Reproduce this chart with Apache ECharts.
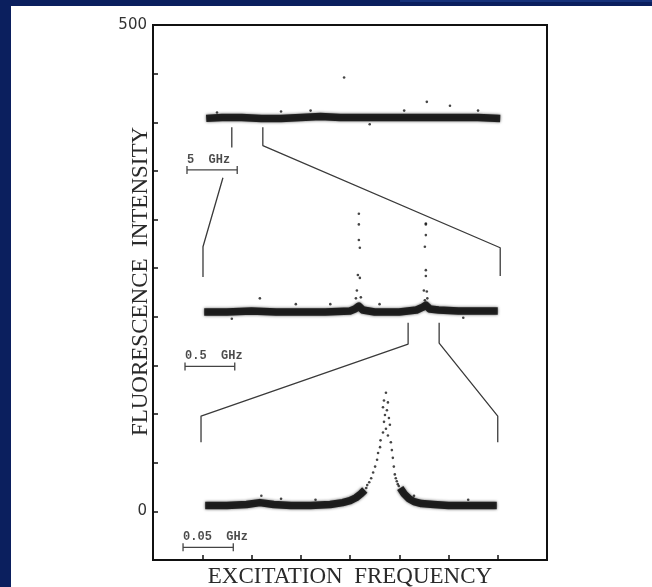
<!DOCTYPE html>
<html>
<head>
<meta charset="utf-8">
<script src="https://cdn.jsdelivr.net/npm/echarts@6/dist/echarts.min.js"></script>
<style>
  html, body { margin: 0; padding: 0; width: 652px; height: 587px; overflow: hidden; background: #0b1f5e; }
  #topline { position: absolute; left: 400px; top: 0; width: 252px; height: 2px; background: #16317a; }
  #chart { position: absolute; left: 11px; top: 6px; width: 641px; height: 581px; background: #fff; }
</style>
</head>
<body>
<div id="topline"></div>
<div id="chart"></div>
<script>
// traces (x: arbitrary frequency units, y: intensity)
const topBand = [[1.08,404],[1.4,405],[1.8,405],[2.2,404],[2.6,404],[3.0,405],[3.4,406],[3.8,405],[4.2,405],[4.6,405],[5.0,405],[5.4,405],[5.8,405],[6.2,405],[6.6,405],[7.05,404]]
const topStray = [[3.88,446],[5.56,421],[6.03,417],[5.1,412],[3.2,412],[2.6,411],[4.4,398],[6.6,412],[1.3,410]]

const midBand = [[1.04,205],[1.5,205],[2.0,206],[2.5,205],[3.0,205],[3.5,205],[4.0,206],[4.1,208],[4.18,211],[4.26,207],[4.5,205],[5.0,205],[5.35,207],[5.48,210],[5.54,212],[5.62,208],[5.8,207],[6.2,206],[6.6,206],[7.0,206]]
const midPeaks = [[4.18,306],[4.18,295],[4.18,279],[4.2,271],[4.16,243],[4.2,240],[4.14,227],[4.12,219],[4.22,220],
  [5.54,296],[5.54,295],[5.54,284],[5.52,272],[5.54,248],[5.54,242],[5.5,227],[5.56,226],[5.52,217],[5.57,219]]
const midStray = [[2.17,219],[2.9,213],[3.6,213],[1.6,198],[4.6,213],[6.3,199]]

const botBandLeft = [[1.06,6],[1.5,6],[1.9,7],[2.17,9],[2.45,7],[2.8,6],[3.2,6],[3.6,7],[3.85,9],[4.0,11],[4.12,14],[4.22,18],[4.3,22]]
const botBandRight = [[5.02,24],[5.1,18],[5.2,13],[5.3,10],[5.45,8],[5.7,7],[6.0,6],[6.5,6],[6.98,6]]
const botPeak = [[4.73,122],[4.69,114],[4.77,112],[4.67,107],[4.75,104],[4.71,99],[4.79,96],[4.69,92],[4.81,89],[4.73,85],[4.67,81],[4.77,78],[4.62,73],[4.83,71],[4.61,66],[4.85,63],[4.57,60],[4.55,53],[4.87,55],[4.51,46],[4.89,46],[4.47,40],[4.91,38],[4.93,34],[4.95,31],[4.43,34],[4.39,30],[4.35,27],[4.97,28],[4.99,26],[4.33,24]]
const botStray = [[2.2,16],[2.6,13],[3.3,12],[5.3,16],[6.4,12]]

// zoom connectors
const zoomTopA = [[1.60,395],[1.60,374]]
const zoomTopB = [[2.23,395],[2.23,376],[7.05,271],[7.05,242]]
const zoomTopC = [[1.42,343],[1.015,272],[1.015,241]]
const zoomMidA = [[5.18,194],[5.18,172],[0.975,98],[0.975,71]]
const zoomMidB = [[5.81,194],[5.81,173],[7.0,98],[7.0,71]]

// scale bars
const scaleBars = [[[0.69,351],[1.71,351]], [[0.65,149],[1.66,149]], [[0.61,-37],[1.63,-37]]]
const scaleNames = ['5  GHz', '0.5  GHz', '0.05  GHz']

const yLabels = [0, 500]

const chart = echarts.init(document.getElementById('chart'))

const ink = '#161616'
const connector = (data) => ({
  type: 'line', data: data, symbol: 'none', silent: true,
  lineStyle: { color: '#3a3a3a', width: 1.3 }
})
const band = (data) => ({
  type: 'line', data: data, symbol: 'none', silent: true,
  lineStyle: { color: ink, width: 7.5, cap: 'butt', join: 'round', opacity: 0.92,
    shadowBlur: 3, shadowColor: 'rgba(0,0,0,0.7)' }
})
const dots = (data) => ({
  type: 'scatter', data: data, symbolSize: 2.6, silent: true,
  itemStyle: { color: ink }
})

const series = [
  band(topBand), dots(topStray),
  band(midBand), dots(midPeaks), dots(midStray),
  band(botBandLeft), band(botBandRight), dots(botPeak), dots(botStray),
  connector(zoomTopA), connector(zoomTopB), connector(zoomTopC),
  connector(zoomMidA), connector(zoomMidB)
]
scaleBars.forEach(b => {
  series.push({
    type: 'line', data: b, symbol: 'rect', symbolSize: [1.3, 8], showSymbol: true, silent: true,
    itemStyle: { color: '#444' }, lineStyle: { color: '#444', width: 1.2 }
  })
})
series.push({
  type: 'scatter', symbolSize: 0, silent: true,
  data: scaleBars.map(b => b[0]),
  label: {
    show: true, position: 'top', align: 'left', distance: 4,
    formatter: p => scaleNames[p.dataIndex],
    fontFamily: 'Liberation Mono', fontWeight: 'bold', fontSize: 12, color: '#1e1e1e'
  }
})

chart.setOption({
  animation: false,
  grid: { left: 142, top: 19, right: 105, bottom: 27, outerBoundsMode: 'none', show: true, borderColor: '#111', borderWidth: 2 },
  xAxis: {
    type: 'value', min: 0, max: 8, interval: 1,
    name: 'EXCITATION  FREQUENCY', nameLocation: 'middle', nameGap: 5,
    nameTextStyle: { fontFamily: 'Liberation Serif', fontSize: 23, color: '#2a2a2a' },
    axisLine: { onZero: false, lineStyle: { color: '#111', width: 2 } },
    axisTick: { inside: true, length: 5, lineStyle: { color: '#111', width: 1.5 } },
    axisLabel: { show: false },
    splitLine: { show: false }
  },
  yAxis: {
    type: 'value', min: -50, max: 500, interval: 50,
    name: 'FLUORESCENCE  INTENSITY', nameLocation: 'middle', nameGap: 1, nameMoveOverlap: false,
    nameTextStyle: { fontFamily: 'Liberation Serif', fontSize: 23, color: '#2a2a2a', padding: [0, 0, 0, 22] },
    axisLine: { onZero: false, lineStyle: { color: '#111', width: 2 } },
    axisTick: { inside: true, length: 5, lineStyle: { color: '#111', width: 1.5 } },
    axisLabel: {
      margin: 6, fontFamily: 'DejaVu Sans', fontSize: 15, color: '#333',
      formatter: v => yLabels.includes(v) ? String(v) : ''
    },
    splitLine: { show: false }
  },
  series: series
})
</script>
</body>
</html>
